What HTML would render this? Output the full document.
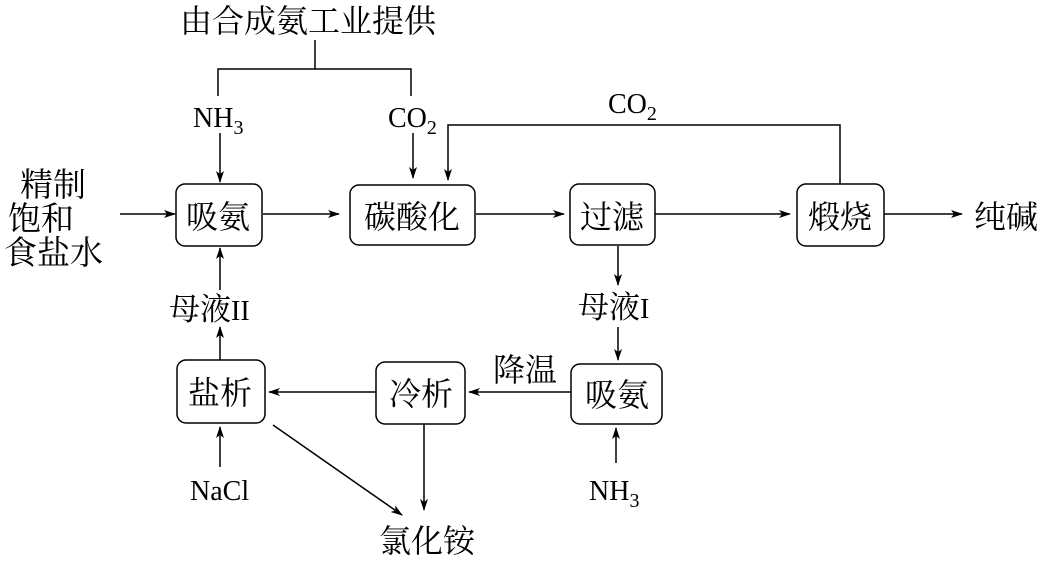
<!DOCTYPE html>
<html><head><meta charset="utf-8"><style>
body{margin:0;background:#fff;}
svg{display:block;font-family:"Liberation Serif","Noto Serif CJK SC",serif;}
text{fill:#000;}
.c{font-family:"Liberation Serif","Noto Serif CJK SC",serif;font-size:32px;}
</style></head><body>
<svg width="1045" height="564" viewBox="0 0 1045 564" xmlns="http://www.w3.org/2000/svg">
<defs><marker id="a" markerWidth="12" markerHeight="8" refX="11" refY="4" orient="auto" markerUnits="userSpaceOnUse"><path d="M0,0 L12,4 L0,8 L3,4 Z" fill="#000"/></marker></defs>
<g fill="none" stroke="#000" stroke-width="1.5">
<rect x="176" y="184" width="86" height="62" rx="9"/>
<rect x="350" y="185" width="125" height="60" rx="9"/>
<rect x="570" y="184" width="85" height="61" rx="9"/>
<rect x="797" y="184" width="87" height="62" rx="9"/>
<rect x="177" y="360" width="88" height="63" rx="9"/>
<rect x="376" y="362" width="89" height="62" rx="9"/>
<rect x="571" y="364" width="91" height="60" rx="9"/>
<path d="M315,40 V69 M218,96 V69 H411 V96"/>
<path d="M220,133 V182" marker-end="url(#a)"/>
<path d="M413,133 V178" marker-end="url(#a)"/>
<path d="M840,184 V125 H448 V180" marker-end="url(#a)"/>
<path d="M120,214 H175" marker-end="url(#a)"/>
<path d="M263,214 H339" marker-end="url(#a)"/>
<path d="M476,214 H564" marker-end="url(#a)"/>
<path d="M655,214 H790" marker-end="url(#a)"/>
<path d="M884,214 H962" marker-end="url(#a)"/>
<path d="M618,246 V285" marker-end="url(#a)"/>
<path d="M618,327 V360" marker-end="url(#a)"/>
<path d="M571,392 H469" marker-end="url(#a)"/>
<path d="M376,392 H269" marker-end="url(#a)"/>
<path d="M220,360 V327" marker-end="url(#a)"/>
<path d="M220,290 V248" marker-end="url(#a)"/>
<path d="M220,467 V427" marker-end="url(#a)"/>
<path d="M616,463 V428" marker-end="url(#a)"/>
<path d="M424,424 V510" marker-end="url(#a)"/>
<path d="M273,425 L402,515" marker-end="url(#a)"/>
</g>
<g class="c">
<text x="180" y="32" font-size="32">由合成氨工业提供</text>
<text x="193" y="127" font-size="28">NH<tspan font-size="20" dy="7">3</tspan></text>
<text x="388" y="127" font-size="28">CO<tspan font-size="20" dy="7">2</tspan></text>
<text x="608" y="113" font-size="28">CO<tspan font-size="20" dy="7">2</tspan></text>
<text x="20" y="196" font-size="33">精制</text>
<text x="8" y="230" font-size="33">饱和</text>
<text x="4" y="264" font-size="33">食盐水</text>
<text x="186" y="228">吸氨</text>
<text x="364" y="228">碳酸化</text>
<text x="580" y="228">过滤</text>
<text x="808" y="228">煅烧</text>
<text x="974" y="228">纯碱</text>
<text x="578" y="318" font-size="31">母液<tspan font-size="28">I</tspan></text>
<text x="169" y="320" font-size="31">母液<tspan font-size="28">II</tspan></text>
<text x="188" y="404">盐析</text>
<text x="389" y="405">冷析</text>
<text x="585" y="406">吸氨</text>
<text x="493" y="381">降温</text>
<text x="190" y="500" font-size="28">NaCl</text>
<text x="589" y="500" font-size="28">NH<tspan font-size="20" dy="7">3</tspan></text>
<text x="379" y="552">氯化铵</text>
</g>
</svg>
</body></html>
